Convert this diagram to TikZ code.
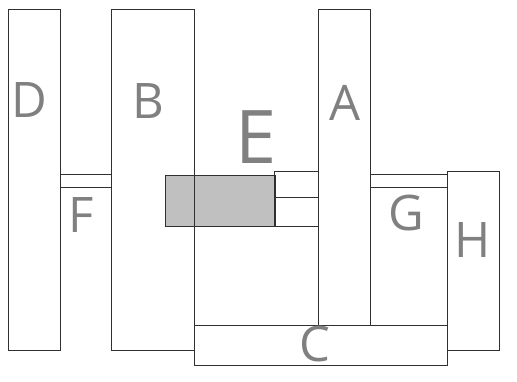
\documentclass[tikz,border=0pt]{standalone}
\usepackage{fontspec}
\setmainfont{Open Sans}
\definecolor{linec}{HTML}{303030}
\definecolor{labc}{HTML}{808080}
\definecolor{fillc}{HTML}{C0C0C0}
\begin{document}
\begin{tikzpicture}[x=1pt,y=-1pt,
  box/.style={draw=linec, line width=0.9pt, inner sep=0pt, outer sep=0pt, anchor=north west},
  lab/.style={text=labc, font=\fontsize{49}{49}\selectfont, anchor=base, inner sep=0pt},
  biglab/.style={text=labc, font=\fontsize{74}{74}\selectfont, anchor=base, inner sep=0pt}]
\useasboundingbox (0,0) rectangle (517,381);
% gray E block
\node[box, fill=fillc, minimum width=110pt, minimum height=51pt] (Eg) at (165,175) {};
\node[box, minimum width=44pt, minimum height=26pt] (E1) at (274,171) {};
\node[box, minimum width=44pt, minimum height=29pt] (E2) at (274,197) {};
% main boxes
\node[box, minimum width=52pt, minimum height=341pt] (D) at (8,9) {};
\node[box, minimum width=83pt, minimum height=341pt] (B) at (111,9) {};
\node[box, minimum width=52pt, minimum height=316pt] (A) at (318,9) {};
\node[box, minimum width=253pt, minimum height=40pt] (C) at (194,325) {};
\node[box, minimum width=52pt, minimum height=179pt] (H) at (447,171) {};
\node[box, minimum width=51pt, minimum height=13pt] (F) at (60,174) {};
\node[box, minimum width=77pt, minimum height=13pt] (G) at (370,174) {};
% labels
\node[lab] (lD) at (29,117) {D};
\node[lab] (lB) at (148.5,118) {B};
\node[lab] (lA) at (345.5,120) {A};
\node[biglab] (lE) at (256,163) {E};
\node[lab] (lF) at (81,232) {F};
\node[lab] (lG) at (406,230) {G};
\node[lab] (lH) at (473,257) {H};
\node[lab] (lC) at (314.5,361) {C};
\end{tikzpicture}
\end{document}
